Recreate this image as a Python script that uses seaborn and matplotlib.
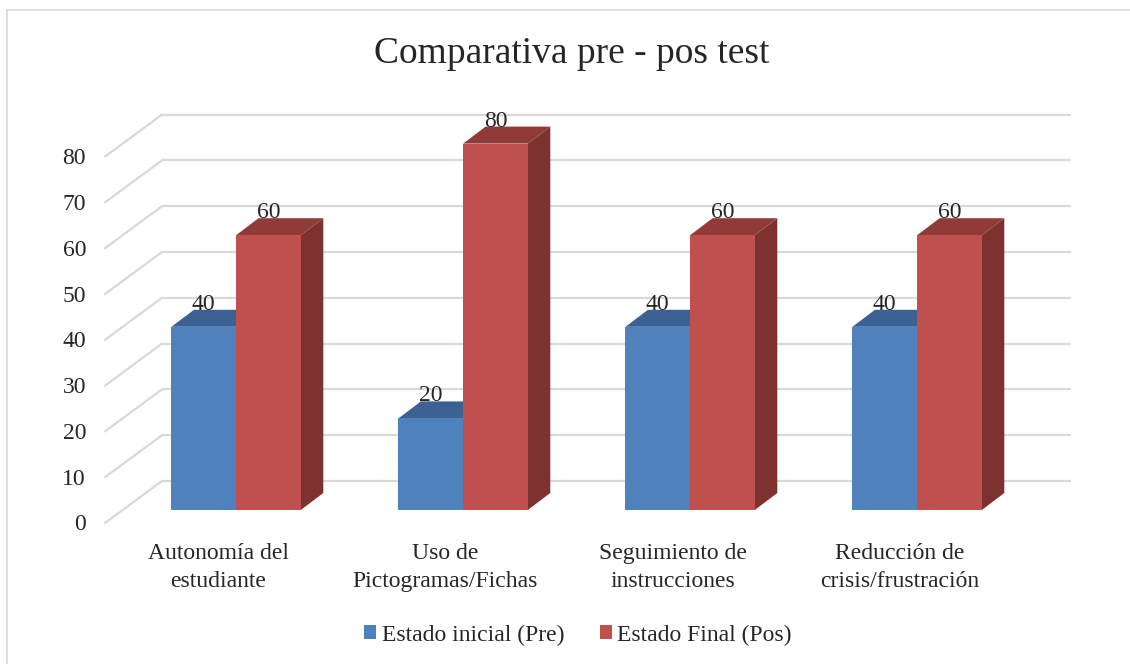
import numpy as np
import pandas as pd
import matplotlib
matplotlib.use("Agg")
import matplotlib.pyplot as plt
import seaborn as sns
from matplotlib.patches import Polygon, Patch
from matplotlib.lines import Line2D

# datos del grafico
categorias = ["Autonomía del\nestudiante", "Uso de\nPictogramas/Fichas",
              "Seguimiento de\ninstrucciones", "Reducción de\ncrisis/frustración"]
series = ["Estado inicial (Pre)", "Estado Final (Pos)"]
pre = [40, 20, 40, 40]
pos = [60, 80, 60, 60]
yticks = [0, 10, 20, 30, 40, 50, 60, 70, 80]

df = pd.DataFrame({
    "categoria": categorias * 2,
    "valor": pre + pos,
    "estado": [series[0]] * len(pre) + [series[1]] * len(pos),
})

colores = ["#4F81BD", "#C0504D"]
techo = ["#3B6292", "#913B39"]
lado = ["#375D8A", "#7E3230"]
gris = "#D9D9D9"

sns.set_style("white")
plt.rcParams["font.family"] = ["Liberation Serif", "DejaVu Serif"]

W, H = 1130, 664
fig = plt.figure(figsize=(W / 100, H / 100), dpi=100)

# plano frontal de las barras (en pixeles)
x_izq, x_der = 122.6, 1030.6
y_base, y_top = 510, 143.6
ax = fig.add_axes([x_izq / W, (H - y_base) / H, (x_der - x_izq) / W, (y_base - y_top) / H])

sns.barplot(data=df, x="categoria", y="valor", hue="estado", palette=colores,
            width=0.57, gap=0, saturation=1, errorbar=None, legend=False,
            edgecolor="none", linewidth=0, ax=ax)
ax.set_xlim(-0.5, 3.5)
ax.set_ylim(0, 80)
ax.axis("off")

px_x = (x_der - x_izq) / 4
px_y = (y_base - y_top) / 80

# desplazamientos de profundidad (pixeles -> datos)
front_dx, front_dy = -17.6 / px_x, -13 / px_y
back_dx, back_dy = 39.4 / px_x, 29 / px_y
bar_dx, bar_dy = 22.5 / px_x, 17 / px_y

# pared del fondo y lineas diagonales
for v in yticks:
    ax.plot([-0.5 + back_dx, 3.5 + back_dx], [v + back_dy] * 2, color=gris, lw=1.6,
            zorder=0.5, clip_on=False)
    ax.plot([-0.5 + front_dx, -0.5 + back_dx], [v + front_dy, v + back_dy], color=gris,
            lw=1.6, zorder=0.5, clip_on=False)
    ax.text(-0.5 + front_dx - 19 / px_x, v + front_dy - 2 / px_y, str(v), ha="right",
            va="center", fontsize=17)

# caras 3D de las barras
for k, cont in enumerate(ax.containers):
    z = 2 + k
    for bar in cont:
        x0, w, h = bar.get_x(), bar.get_width(), bar.get_height()
        bar.set_zorder(z)
        top = [(x0, h), (x0 + w, h), (x0 + w + bar_dx, h + bar_dy), (x0 + bar_dx, h + bar_dy)]
        side = [(x0 + w, 0), (x0 + w + bar_dx, bar_dy), (x0 + w + bar_dx, h + bar_dy), (x0 + w, h)]
        ax.add_patch(Polygon(top, closed=True, facecolor=techo[k], edgecolor="none",
                             zorder=z - 0.5, clip_on=False))
        ax.add_patch(Polygon(side, closed=True, facecolor=lado[k], edgecolor="none",
                             zorder=z - 0.5, clip_on=False))
        ax.text(x0 + w / 2, h + bar_dy, f"{h:.0f}", ha="center", va="baseline",
                fontsize=17, zorder=10)

for i, cat in enumerate(categorias):
    ax.text(i + front_dx, (y_base - 543) / px_y, cat, ha="center", va="top",
            fontsize=17, linespacing=1.45)

fig.text(571.5 / W, (H - 54) / H, "Comparativa pre - pos test", ha="center", va="center",
         fontsize=27)

handles = [Patch(facecolor=c, edgecolor="none") for c in colores]
fig.legend(handles, series, loc="center", bbox_to_anchor=(578 / W, 29 / H), ncol=2,
           frameon=False, fontsize=17, handlelength=0.5, handleheight=0.5,
           handletextpad=0.25, columnspacing=1.5)

# marco del grafico
fig.add_artist(Line2D([7 / W, 7 / W], [0, (H - 10) / H], color=gris, lw=1.2))
fig.add_artist(Line2D([7 / W, 1], [(H - 10) / H] * 2, color=gris, lw=1.2))

fig.savefig("out.png", dpi=100)
